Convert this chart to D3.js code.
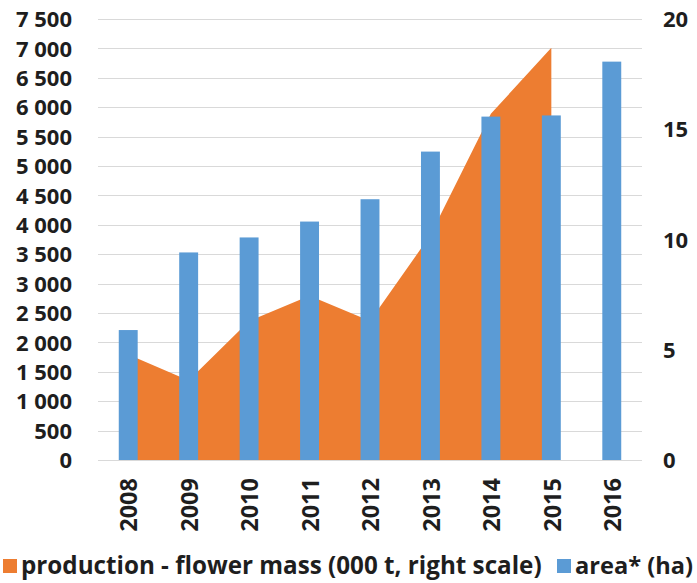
<!DOCTYPE html>
<html>
<head>
<meta charset="utf-8">
<script src="https://cdn.jsdelivr.net/npm/d3@7"></script>
<style>
  html, body { margin: 0; padding: 0; background: #ffffff; }
  svg { display: block; }
  text { font-family: "Open Sans", "Noto Sans", sans-serif; font-weight: 700; fill: #1e1e1e; }
</style>
</head>
<body>
<svg id="chart" width="697" height="583"></svg>
<script>
// ---- data ----
const years = ["2008", "2009", "2010", "2011", "2012", "2013", "2014", "2015", "2016"];
const areaHa = [2210, 3530, 3785, 4055, 4435, 5245, 5840, 5860, 6775];           // left scale
const production = [4.78, 3.6, 6.3, 7.45, 6.3, 10.2, 15.7, 18.7, null];         // right scale (000 t)
const leftTicks = [0, 500, 1000, 1500, 2000, 2500, 3000, 3500, 4000, 4500, 5000, 5500, 6000, 6500, 7000, 7500];
const rightTicks = [0, 5, 10, 15, 20];
const legendLabels = ["production - flower mass (000 t, right scale)", "area* (ha)"];

// ---- layout ----
const W = 697, H = 583;
const plot = { left: 98, right: 642, top: 19, bottom: 460 };
const colors = { bar: "#5B9BD5", area: "#ED7D31", grid: "#d9d9d9" };

const svg = d3.select("#chart");

const x = d3.scaleBand().domain(years).range([plot.left, plot.right]).paddingInner(0).paddingOuter(0);
const yL = d3.scaleLinear().domain([0, 7500]).range([plot.bottom, plot.top]);
const yR = d3.scaleLinear().domain([0, 20]).range([plot.bottom, plot.top]);

const fmt = d3.formatLocale({ decimal: ".", thousands: " ", grouping: [3], currency: ["", ""] }).format(",d");

// gridlines
svg.append("g")
  .selectAll("line")
  .data(leftTicks)
  .join("line")
  .attr("x1", plot.left).attr("x2", plot.right)
  .attr("y1", d => Math.round(yL(d)) + 0.5).attr("y2", d => Math.round(yL(d)) + 0.5)
  .attr("stroke", colors.grid).attr("stroke-width", 1.2);

// production area (right scale)
const cx = d => x(d) + x.bandwidth() / 2;
const areaGen = d3.area()
  .defined(d => d.v != null)
  .x(d => cx(d.year))
  .y0(yR(0))
  .y1(d => yR(d.v));
svg.append("path")
  .datum(years.map((y, i) => ({ year: y, v: production[i] })))
  .attr("d", areaGen)
  .attr("fill", colors.area);

// bars (left scale)
const barW = x.bandwidth() * 0.313;
svg.append("g")
  .selectAll("rect")
  .data(years.map((y, i) => ({ year: y, v: areaHa[i] })))
  .join("rect")
  .attr("x", d => cx(d.year) - barW / 2)
  .attr("width", barW)
  .attr("y", d => yL(d.v))
  .attr("height", d => yL(0) - yL(d.v))
  .attr("fill", colors.bar);

// left axis
const leftAxis = d3.axisLeft(yL).tickValues(leftTicks).tickFormat(fmt).tickSize(0).tickPadding(0);
const gL = svg.append("g").attr("transform", `translate(72,0)`).call(leftAxis);
gL.select(".domain").remove();
gL.selectAll("text").attr("font-size", 22).attr("dy", "0.35em").attr("fill", "#1e1e1e")
  .style("font-family", '"Open Sans", sans-serif').style("font-weight", 700);

// right axis
const rightAxis = d3.axisRight(yR).tickValues(rightTicks).tickFormat(d3.format("d")).tickSize(0).tickPadding(0);
const gR = svg.append("g").attr("transform", `translate(663,0)`).call(rightAxis);
gR.select(".domain").remove();
gR.selectAll("text").attr("font-size", 22).attr("dy", "0.35em").attr("fill", "#1e1e1e")
  .style("font-family", '"Open Sans", sans-serif').style("font-weight", 700);

// x axis labels (rotated)
const xAxis = d3.axisBottom(x).tickSize(0).tickPadding(0);
const gX = svg.append("g").attr("transform", `translate(0,${plot.bottom})`).call(xAxis);
gX.select(".domain").remove();
gX.selectAll("text")
  .attr("font-size", 23.5)
  .attr("text-anchor", "end")
  .attr("transform", "rotate(-90)")
  .attr("x", -18).attr("y", 1).attr("dy", "0.35em")
  .attr("fill", "#1e1e1e")
  .style("font-family", '"Open Sans", sans-serif').style("font-weight", 700);

// legend
const legend = svg.append("g");
const legY = 566;
const items = [
  { label: legendLabels[0], color: colors.area, sx: 3, tx: 21, tw: 521 },
  { label: legendLabels[1], color: colors.bar, sx: 557, tx: 575, tw: 118 }
];
items.forEach(it => {
  legend.append("rect").attr("x", it.sx).attr("y", legY - 7).attr("width", 14).attr("height", 14).attr("fill", it.color);
  const t = legend.append("text").attr("x", it.tx).attr("y", legY).attr("dy", "0.35em")
    .attr("font-size", 21).text(it.label);
  const len = t.node().getComputedTextLength();
  t.attr("font-size", 21 * it.tw / len);
});
</script>
</body>
</html>
